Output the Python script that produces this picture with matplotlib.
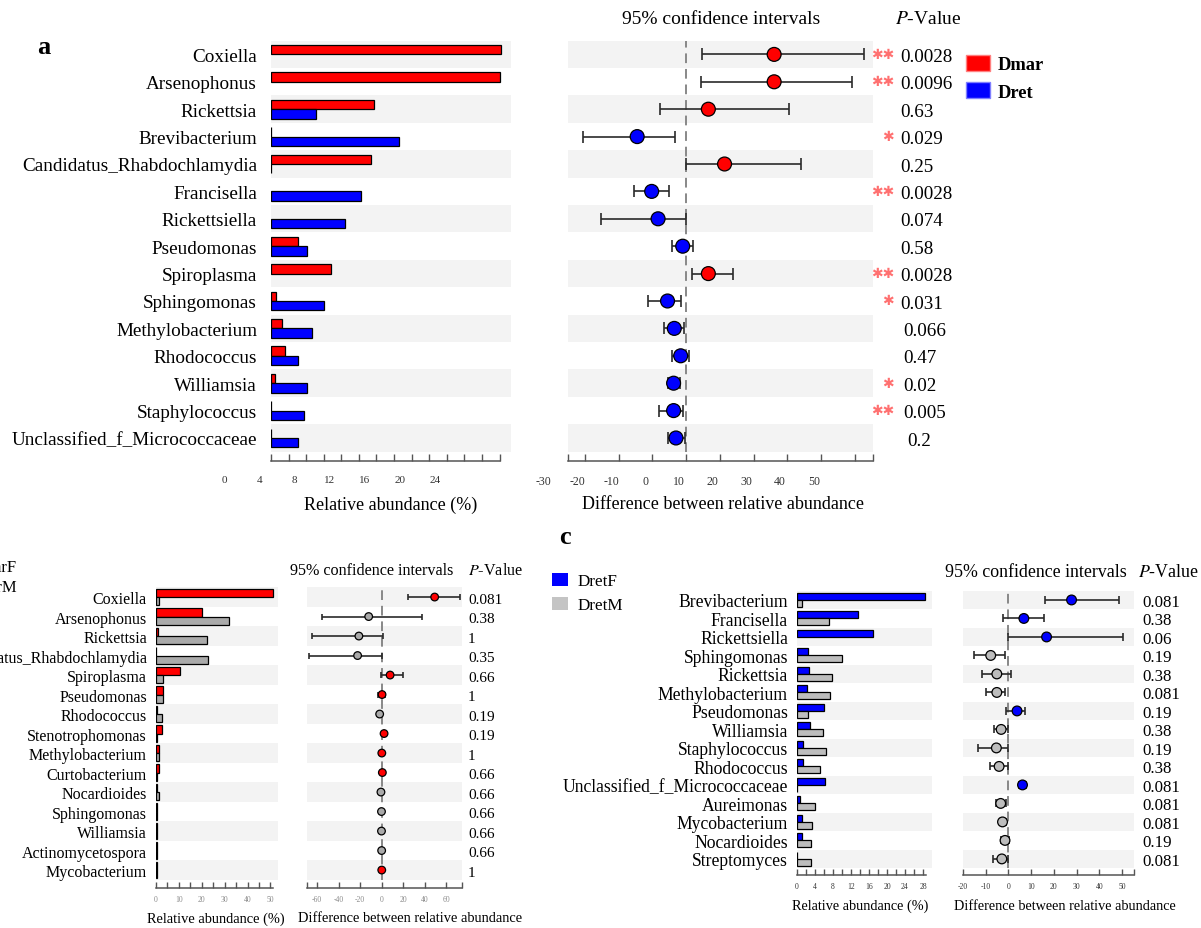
import numpy as np
import matplotlib.pyplot as plt
from matplotlib.patches import Patch
from matplotlib.transforms import ScaledTranslation

plt.rcParams['font.family'] = ['Liberation Serif', 'DejaVu Serif']
plt.rcParams['mathtext.fontset'] = 'stix'

W, H = 1201, 929
RED, BLUE, GRAY = '#ff0000', '#0000ff', '#aaaaaa'
STRIPE = '#f3f3f3'
STAR = '#ff7070'

# ---- panel a: Dmar vs Dret
a_taxa = ['Coxiella', 'Arsenophonus', 'Rickettsia', 'Brevibacterium',
          'Candidatus_Rhabdochlamydia', 'Francisella', 'Rickettsiella',
          'Pseudomonas', 'Spiroplasma', 'Sphingomonas', 'Methylobacterium',
          'Rhodococcus', 'Williamsia', 'Staphylococcus',
          'Unclassified_f_Micrococcaceae']
a_dmar = [26.2, 26.1, 11.7, 0.05, 11.4, 0, 0, 3.1, 6.8, 0.6, 1.3, 1.6, 0.5, 0.05, 0.05]
a_dret = [0, 0, 5.1, 14.6, 0.05, 10.2, 8.4, 4.1, 0, 6.0, 4.7, 3.1, 4.1, 3.7, 3.1]
a_diff = [26.1, 26.1, 6.6, -14.5, 11.4, -10.2, -8.3, -1.0, 6.6, -5.5, -3.5, -1.6, -3.7, -3.7, -3.0]
a_low = [4.7, 4.5, -7.7, -30.7, 0.0, -15.5, -25.1, -4.1, 1.9, -11.2, -6.5, -4.3, -5.5, -8.1, -5.5]
a_high = [52.8, 49.3, 30.4, -3.4, 34.2, -5.2, 0.0, 2.1, 13.9, -1.5, -0.7, 1.0, -1.7, -1.0, -0.2]
a_pval = ['0.0028', '0.0096', '0.63', '0.029', '0.25', '0.0028', '0.074', '0.58',
          '0.0028', '0.031', '0.066', '0.47', '0.02', '0.005', '0.2']
a_stars = [2, 2, 0, 1, 0, 2, 0, 0, 2, 1, 0, 0, 1, 2, 0]

# ---- panel b: DmarF vs DmarM
b_taxa = ['Coxiella', 'Arsenophonus', 'Rickettsia', 'Candidatus_Rhabdochlamydia',
          'Spiroplasma', 'Pseudomonas', 'Rhodococcus', 'Stenotrophomonas',
          'Methylobacterium', 'Curtobacterium', 'Nocardioides', 'Sphingomonas',
          'Williamsia', 'Actinomycetospora', 'Mycobacterium']
b_dmarf = [50.9, 20.0, 0.7, 0.1, 10.5, 3.2, 0.6, 2.5, 1.3, 1.2, 0.6, 0.4, 0.4, 0.3, 0.4]
b_dmarm = [1.5, 32.1, 22.4, 22.7, 2.9, 2.9, 2.5, 0.3, 1.3, 0.6, 1.3, 0.6, 0.6, 0.3, 0.4]
b_diff = [49.2, -12.1, -21.2, -22.4, 7.8, 0.3, -1.9, 2.2, 0.1, 0.6, -0.7, -0.2, -0.2, -0.05, 0.05]
b_low = [24.0, -55.1, -64.8, -67.6, -0.9, -3.0, -3.7, 0.0, -1.5, -1.0, -2.0, -1.2, -1.2, -1.0, -1.0]
b_high = [72.6, 37.1, 1.6, 0.0, 20.2, 3.0, -0.6, 4.0, 2.0, 2.0, 1.0, 1.0, 1.0, 1.0, 1.0]
b_pval = ['0.081', '0.38', '1', '0.35', '0.66', '1', '0.19', '0.19', '1',
          '0.66', '0.66', '0.66', '0.66', '0.66', '1']

# ---- panel c: DretF vs DretM
c_taxa = ['Brevibacterium', 'Francisella', 'Rickettsiella', 'Sphingomonas',
          'Rickettsia', 'Methylobacterium', 'Pseudomonas', 'Williamsia',
          'Staphylococcus', 'Rhodococcus', 'Unclassified_f_Micrococcaceae',
          'Aureimonas', 'Mycobacterium', 'Nocardioides', 'Streptomyces']
c_dretf = [28.5, 13.6, 16.8, 2.4, 2.6, 2.2, 6.1, 2.8, 1.3, 1.3, 6.2, 0.6, 1.0, 1.2, 0.1]
c_dretm = [1.0, 7.0, 0, 10.0, 7.8, 7.4, 2.4, 5.8, 6.4, 5.2, 0.1, 3.9, 3.4, 3.0, 3.0]
c_diff = [27.8, 6.8, 16.8, -7.8, -5.1, -5.1, 3.8, -3.2, -5.3, -4.1, 6.2, -3.4, -2.6, -1.5, -2.9]
c_low = [16.0, -2.6, 0.0, -15.1, -11.6, -9.7, -0.9, -6.3, -13.4, -8.1, 4.7, -5.3, -3.8, -3.1, -6.8]
c_high = [48.8, 15.6, 50.3, -1.6, 1.3, -1.6, 7.5, 0.0, 0.0, -0.3, 7.9, -0.9, -1.2, 0.1, -0.3]
c_pval = ['0.081', '0.38', '0.06', '0.19', '0.38', '0.081', '0.19', '0.38', '0.19',
          '0.38', '0.081', '0.081', '0.081', '0.19', '0.081']

fig = plt.figure(figsize=(W / 100, H / 100), dpi=100)


def px_axes(x0, y0, x1, y1):
    return fig.add_axes([x0 / W, 1 - y1 / H, (x1 - x0) / W, (y1 - y0) / H])


def ftext(x, y, s, **kw):
    fig.text(x / W, 1 - y / H, s, **kw)


def style_axis(ax, n, row_pad, xlim, ticks, labels, bounds, shift, tsize, tcolor, tlen, pad):
    for i in range(0, n, 2):
        ax.axhspan(i - 0.5, i + 0.5, color=STRIPE, lw=0, zorder=0)
    ax.set_ylim(n - 0.5 + row_pad, -0.5)
    ax.set_xlim(*xlim)
    for s in ('top', 'right', 'left'):
        ax.spines[s].set_visible(False)
    ax.spines['bottom'].set_bounds(*bounds)
    ax.spines['bottom'].set_color('#555555')
    ax.spines['bottom'].set_linewidth(1.1)
    ax.set_xticks(ticks)
    ax.set_xticklabels(labels)
    ax.tick_params(axis='x', direction='in', length=tlen, width=1.0, color='#555555',
                   labelsize=tsize, labelcolor=tcolor, pad=pad)
    if shift:
        off = ScaledTranslation(shift / 100, 0, fig.dpi_scale_trans)
        for t in ax.xaxis.get_major_ticks():
            t.label1.set_transform(t.label1.get_transform() + off)


def bar_panel(box, taxa, v1, v2, c1, c2, bar_h, row_pad, xlim, ticks, labels, bounds,
              shift, tsize, tcolor, tlen, pad, lab_size, lab_pad):
    ax = px_axes(*box)
    n = len(taxa)
    y = np.arange(n)
    for vals, col, off in ((v1, c1, -bar_h / 2), (v2, c2, bar_h / 2)):
        vals = np.asarray(vals, float)
        keep = vals > 0
        ax.barh(y[keep] + off, vals[keep], height=bar_h, color=col,
                edgecolor='black', lw=0.9, zorder=2)
    style_axis(ax, n, row_pad, xlim, ticks, labels, bounds, shift, tsize, tcolor, tlen, pad)
    ax.set_yticks(y)
    ax.set_yticklabels(taxa, fontsize=lab_size)
    ax.tick_params(axis='y', length=0, pad=lab_pad)
    return ax


def ci_panel(box, diff, low, high, c1, c2, ms, cap, row_pad, xlim, ticks, labels,
             shift, tsize, tcolor, tlen, pad):
    ax = px_axes(*box)
    n = len(diff)
    y = np.arange(n)
    diff = np.asarray(diff)
    err = [diff - np.asarray(low), np.asarray(high) - diff]
    ax.axvline(0, ymin=row_pad / (n + row_pad), ymax=1, color='#888888', lw=1.4,
               ls=(0, (5, 3)), zorder=1)
    ax.errorbar(diff, y, xerr=err, fmt='none', ecolor='#2a2a2a', elinewidth=1.2,
                capsize=cap, capthick=1.2, zorder=2)
    cols = [c1 if d > 0 else c2 for d in diff]
    ax.scatter(diff, y, s=ms ** 2, c=cols, edgecolors='black', linewidths=0.9, zorder=3)
    style_axis(ax, n, row_pad, xlim, ticks, labels, (xlim[0], xlim[1]), shift,
               tsize, tcolor, tlen, pad)
    ax.set_yticks([])
    return ax


def px_frac(ax_box, x):
    return (x - ax_box[0]) / (ax_box[2] - ax_box[0])


# ================= panel a =================
a_bar_box = (271, 41.7, 511, 462)
a_ci_box = (568, 41.7, 873, 462)
a_bar_ticks = np.arange(0, 27, 2)
a_bar_labels = [str(t) if t % 4 == 0 and t <= 24 else '' for t in a_bar_ticks]
bar_panel(a_bar_box, a_taxa, a_dmar, a_dret, RED, BLUE, 0.34, 0.34, (0, 27.3),
          a_bar_ticks, a_bar_labels, (0, 26), -47, 8, '#333333', 5, 10, 13.8, 10)
a_ci_ticks = [-35] + list(range(-30, 51, 10)) + [55.4]
a_ci_labels = [''] + [str(t) for t in range(-30, 51, 10)] + ['']
ax_a = ci_panel(a_ci_box, a_diff, a_low, a_high, RED, BLUE, 10, 4.3, 0.34, (-35, 55.4),
                a_ci_ticks, a_ci_labels, -41, 8.5, '#333333', 5, 10)
for i, (p, st) in enumerate(zip(a_pval, a_stars)):
    xp = 900 if i < 10 else (903 if i < 14 else 907)
    ax_a.text(px_frac(a_ci_box, xp), i + 0.08, p, transform=ax_a.get_yaxis_transform(),
              ha='left', va='center', fontsize=13.7)
    if st:
        ax_a.text(px_frac(a_ci_box, 894), i - 0.02, '\u2731' * st,
                  transform=ax_a.get_yaxis_transform(), ha='right', va='center',
                  fontsize=10, color=STAR, family='DejaVu Sans')
ftext(44, 48, 'a', fontsize=19, fontweight='bold', ha='center', va='center')
ftext(721, 19, '95% confidence intervals', fontsize=14, ha='center', va='center')
ftext(928, 19, '$P$-Value', fontsize=14, ha='center', va='center')
ftext(391, 505, 'Relative abundance (%)', fontsize=13, ha='center', va='center')
ftext(723, 505, 'Difference between relative abundance', fontsize=13, ha='center', va='center')
fig.legend(handles=[Patch(facecolor=RED, edgecolor='#ff8080'),
                    Patch(facecolor=BLUE, edgecolor='#8080ff')],
           labels=['Dmar', 'Dret'], loc='upper left',
           bbox_to_anchor=(966 / W, 1 - 56 / H), frameon=False, borderpad=0,
           borderaxespad=0, handlelength=1.3, handleheight=0.92, labelspacing=0.5,
           handletextpad=0.4, prop={'weight': 'bold', 'size': 13.3})

# ================= panel b =================
b_bar_box = (156, 588.3, 278, 889)
b_ci_box = (307, 588.3, 462, 889)
b_bar_ticks = np.arange(0, 51, 5)
b_bar_labels = [str(t) if t % 10 == 0 else '' for t in b_bar_ticks]
bar_panel(b_bar_box, b_taxa, b_dmarf, b_dmarm, RED, GRAY, 0.42, 0.42, (0, 53.3),
          b_bar_ticks, b_bar_labels, (0, 50.9), 0, 5.5, '#8a8a8a', 4, 5, 11.5, 6.5)
b_ci_ticks = [-69.4] + list(range(-60, 61, 20)) + [74.6]
b_ci_labels = [''] + [str(t) for t in range(-60, 61, 20)] + ['']
ax_b = ci_panel(b_ci_box, b_diff, b_low, b_high, RED, GRAY, 5.5, 2.5, 0.42, (-69.4, 74.6),
                b_ci_ticks, b_ci_labels, 0, 5.5, '#8a8a8a', 4, 5)
for i, p in enumerate(b_pval):
    ax_b.text(px_frac(b_ci_box, 468), i + 0.1, p, transform=ax_b.get_yaxis_transform(),
              ha='left', va='center', fontsize=11)
ftext(372, 571, '95% confidence intervals', fontsize=11.6, ha='center', va='center')
ftext(496, 571, '$P$-Value', fontsize=11.6, ha='center', va='center')
ftext(216, 919, 'Relative abundance (%)', fontsize=10.4, ha='center', va='center')
ftext(410, 919, 'Difference between relative abundance', fontsize=10.4, ha='center', va='center')
# legend of panel b lies mostly outside the picture; only the ends of the names show
ftext(17, 568, 'DmarF', fontsize=12, ha='right', va='center')
ftext(17, 588, 'DmarM', fontsize=12, ha='right', va='center')

# ================= panel c =================
c_bar_box = (797, 591.7, 932, 876)
c_ci_box = (963, 591.7, 1134, 876)
c_bar_ticks = np.arange(0, 29, 2)
c_bar_labels = [str(t) if t % 4 == 0 else '' for t in c_bar_ticks]
bar_panel(c_bar_box, c_taxa, c_dretf, c_dretm, BLUE, '#bdbdbd', 0.38, 0.37, (0, 30.0),
          c_bar_ticks, c_bar_labels, (0, 28.6), 0, 5.5, '#333333', 4, 5, 12.7, 6.5)
c_ci_ticks = list(range(-20, 51, 10)) + [55.3]
c_ci_labels = [str(t) for t in range(-20, 51, 10)] + ['']
ax_c = ci_panel(c_ci_box, c_diff, c_low, c_high, BLUE, '#bdbdbd', 7, 2.9, 0.37, (-20, 55.3),
                c_ci_ticks, c_ci_labels, 0, 5.5, '#333333', 4, 5)
for i, p in enumerate(c_pval):
    ax_c.text(px_frac(c_ci_box, 1142), i + 0.1, p, transform=ax_c.get_yaxis_transform(),
              ha='left', va='center', fontsize=12.2)
ftext(565, 538, 'c', fontsize=19, fontweight='bold', ha='center', va='center')
ftext(1036, 573, '95% confidence intervals', fontsize=12.9, ha='center', va='center')
ftext(1168, 573, '$P$-Value', fontsize=12.9, ha='center', va='center')
ftext(860, 906, 'Relative abundance (%)', fontsize=10.3, ha='center', va='center')
ftext(1065, 907, 'Difference between relative abundance', fontsize=10.3, ha='center', va='center')
fig.legend(handles=[Patch(facecolor=BLUE, edgecolor='none'),
                    Patch(facecolor='#c4c4c4', edgecolor='none')],
           labels=['DretF', 'DretM'], loc='upper left',
           bbox_to_anchor=(552 / W, 1 - 574 / H), frameon=False, borderpad=0,
           borderaxespad=0, handlelength=0.94, handleheight=0.76, labelspacing=0.45,
           handletextpad=0.55, prop={'size': 12.3})

fig.savefig('out.png', dpi=100)
